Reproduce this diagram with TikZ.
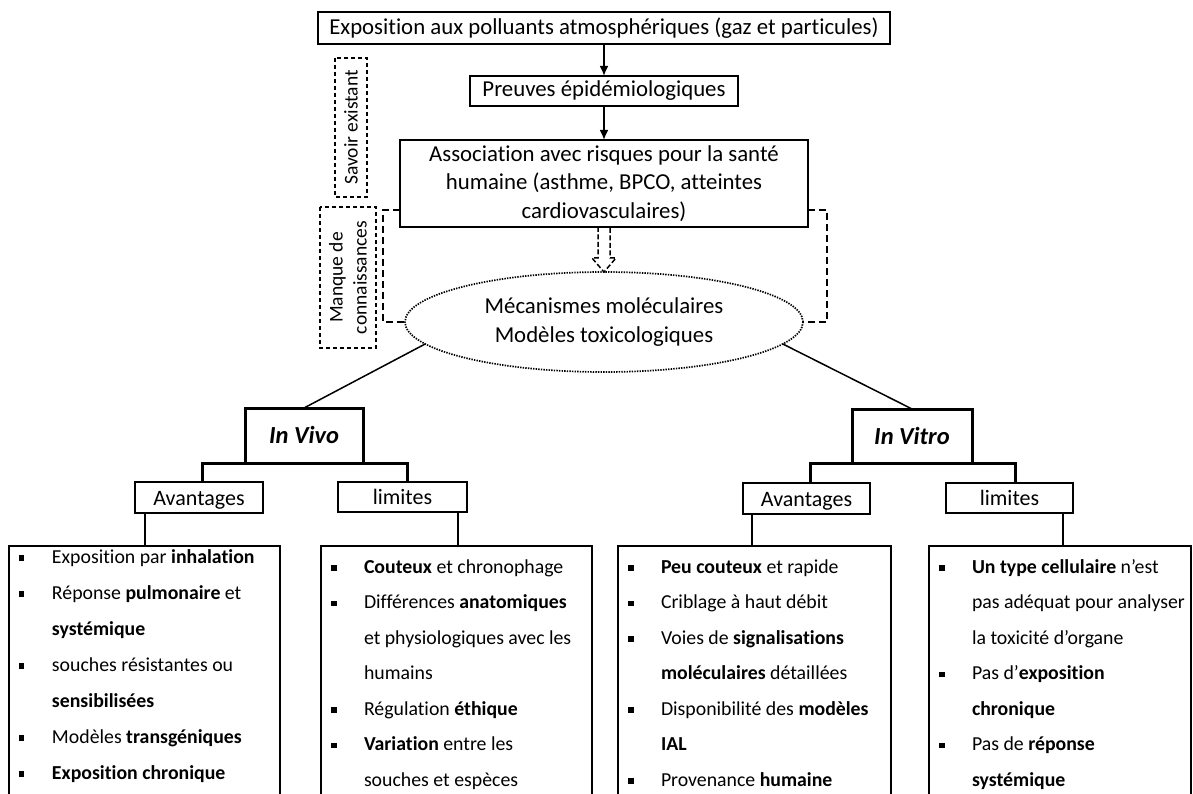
\documentclass[tikz,border=0pt]{standalone}
\usepackage{fontspec}
\setmainfont{Carlito}[Ligatures=NoCommon]
\usetikzlibrary{arrows.meta,calc,shapes.geometric}
\newcommand\fsA{\fontsize{22.8}{28.5}\selectfont}
\newcommand\fsB{\fontsize{19.8}{24}\selectfont}
\newcommand\fsC{\fontsize{19.5}{24}\selectfont}
\newcommand\fsD{\fontsize{22}{26}\selectfont}
\newcommand\blt{\makebox[43pt][l]{\hspace{10pt}\rule[2.5pt]{5.5pt}{5.5pt}}}
\newcommand\ind{\hspace*{43pt}}
\begin{document}
\begin{tikzpicture}[x=1pt,y=-1pt,
  box/.style={draw, line width=1.5pt, inner sep=0pt, outer sep=0pt, font=\fsA, align=center},
  dbox/.style={draw, dash pattern=on 4pt off 3pt, line width=1.2pt, inner sep=0pt, outer sep=0pt, font=\fsC, align=center, rotate=90},
  mainbox/.style={draw, line width=3pt, inner sep=0pt, outer sep=0pt, text height=17pt, text depth=1pt, font=\fontsize{24.5}{28}\selectfont\bfseries\itshape},
  subbox/.style={draw, line width=2pt, inner sep=0pt, outer sep=0pt, text height=16pt, text depth=1pt, font=\fsD},
  listbox/.style={draw, line width=1.5pt, inner sep=0pt, outer sep=0pt, anchor=north west, minimum height=300pt},
  item/.style={anchor=base west, inner sep=0pt, outer sep=0pt, font=\fsB},
  arr/.style={line width=2pt, -{Latex[length=10pt,width=9pt]}},
  bracket/.style={line width=2pt, dash pattern=on 7pt off 4pt},
  thk/.style={line width=3pt},
  conn/.style={line width=1.5pt}
]
\useasboundingbox (0,0) rectangle (1193,794);
\clip (0,0) rectangle (1193,794);
\fill[white] (0,0) rectangle (1193,794);

% top chain
\node[box, minimum width=572pt, minimum height=32pt] (top) at (604,28) {Exposition aux polluants atmosphériques (gaz et particules)};
\node[box, minimum width=268pt, minimum height=30pt] (preuves) at (604,91) {Preuves épidémiologiques};
\node[box, minimum width=408pt, minimum height=87pt] (asso) at (604,183.5) {Association avec risques pour la santé\\humaine (asthme, BPCO, atteintes\\cardiovasculaires)};
\draw[arr] (top.south) -- (preuves.north);
\draw[arr] (preuves.south) -- (asso.north);

% side dashed labels
\node[dbox, minimum width=139pt, minimum height=32pt] (savoir) at (351,127.5) {Savoir existant};
\node[dbox, minimum width=141pt, minimum height=56pt] (manque) at (348,277.5) {Manque de\\connaissances};

% ellipse
\node[draw, ellipse, dash pattern=on 1.4pt off 1.2pt, line width=1.7pt, minimum width=398pt, minimum height=100pt, inner sep=0pt, outer sep=0pt, font=\fsA, align=center] (ell) at (604,322) {Mécanismes moléculaires\\Modèles toxicologiques};

% dashed brackets
\draw[bracket] ([yshift=17pt]asso.south west) -- ++(-17,0) |- (ell.west);
\draw[bracket] ([yshift=17pt]asso.south east) -- ++(19,0) |- (ell.east);

% hollow dashed double arrow
\coordinate (tip) at (ell.north);
\draw[line width=1.5pt, dash pattern=on 5pt off 2.5pt, line join=miter]
  ($(asso.south)+(-6,0)$) -- ($(tip)+(-6,-14)$) -- ($(tip)+(-12,-14)$) -- (tip)
  -- ($(tip)+(12,-14)$) -- ($(tip)+(6,-14)$) -- ($(asso.south)+(6,0)$);

% In Vivo / In Vitro
\node[mainbox, minimum width=118pt, minimum height=55pt] (vivo) at (304,435.5) {In Vivo};
\node[mainbox, minimum width=120pt, minimum height=54pt] (vitro) at (912,436) {In Vitro};
\draw[conn] (ell.187) -- (vivo.north);
\draw[conn] (ell.-7) -- (vitro.north);

\node[subbox, minimum width=128pt, minimum height=31pt] (avI) at (199,497.5) {Avantages};
\node[subbox, minimum width=129pt, minimum height=30pt] (limI) at (402.5,497) {limites};
\node[subbox, minimum width=127pt, minimum height=31pt] (avT) at (806.5,498.5) {Avantages};
\node[subbox, minimum width=127pt, minimum height=30pt] (limT) at (1009.5,498) {limites};

\draw[thk] ([xshift=3pt]avI.north) |- (vivo.south) -| ([xshift=4.5pt]limI.north);
\draw[thk] ([xshift=3.5pt]avT.north) |- (vitro.south) -| ([xshift=5.5pt]limT.north);

% list boxes
\node[listbox, minimum width=271pt] (b1) at (9,546) {};
\node[listbox, minimum width=271pt] (b2) at (321,546) {};
\node[listbox, minimum width=273pt] (b3) at (618,546) {};
\node[listbox, minimum width=262pt] (b4) at (929,546) {};

\draw[conn] ([xshift=10pt]avI.south west) -- ([xshift=10pt]avI.south west |- b1.north);
\draw[conn] ([xshift=-9pt]limI.south east) -- ([xshift=-9pt]limI.south east |- b2.north);
\draw[conn] ([xshift=9pt]avT.south west) -- ([xshift=9pt]avT.south west |- b3.north);
\draw[conn] ([xshift=-10pt]limT.south east) -- ([xshift=-10pt]limT.south east |- b4.north);

% list 1
\node[item] (l11) at (9,563) {\blt Exposition par \textbf{inhalation}};
\node[item] (l12) at (9,599) {\blt Réponse \textbf{pulmonaire} et};
\node[item] (l13) at (9,635) {\ind\textbf{systémique}};
\node[item] (l14) at (9,671) {\blt souches résistantes ou};
\node[item] (l15) at (9,707) {\ind\textbf{sensibilisées}};
\node[item] (l16) at (9,743) {\blt Modèles \textbf{transgéniques}};
\node[item] (l17) at (9,779) {\blt \textbf{Exposition chronique}};

% list 2
\node[item] (l21) at (321,573) {\blt \textbf{Couteux} et chronophage};
\node[item] (l22) at (321,608.5) {\blt Différences \textbf{anatomiques}};
\node[item] (l23) at (321,644) {\ind et physiologiques avec les};
\node[item] (l24) at (321,679.5) {\ind humains};
\node[item] (l25) at (321,715) {\blt Régulation \textbf{éthique}};
\node[item] (l26) at (321,750.5) {\blt \textbf{Variation} entre les};
\node[item] (l27) at (321,786) {\ind souches et espèces};

% list 3
\node[item] (l31) at (618,573) {\blt \textbf{Peu couteux} et rapide};
\node[item] (l32) at (618,608.5) {\blt Criblage à haut débit};
\node[item] (l33) at (618,644) {\blt Voies de \textbf{signalisations}};
\node[item] (l34) at (618,679.5) {\ind\textbf{moléculaires} détaillées};
\node[item] (l35) at (618,715) {\blt Disponibilité des \textbf{modèles}};
\node[item] (l36) at (618,750.5) {\ind\textbf{IAL}};
\node[item] (l37) at (618,786) {\blt Provenance \textbf{humaine}};

% list 4
\node[item] (l41) at (929,573) {\blt \textbf{Un type cellulaire} n’est};
\node[item] (l42) at (929,608.5) {\ind pas adéquat pour analyser};
\node[item] (l43) at (929,644) {\ind la toxicité d’organe};
\node[item] (l44) at (929,679.5) {\blt Pas d’\textbf{exposition}};
\node[item] (l45) at (929,715) {\ind\textbf{chronique}};
\node[item] (l46) at (929,750.5) {\blt Pas de \textbf{réponse}};
\node[item] (l47) at (929,786) {\ind\textbf{systémique}};
\end{tikzpicture}
\end{document}
